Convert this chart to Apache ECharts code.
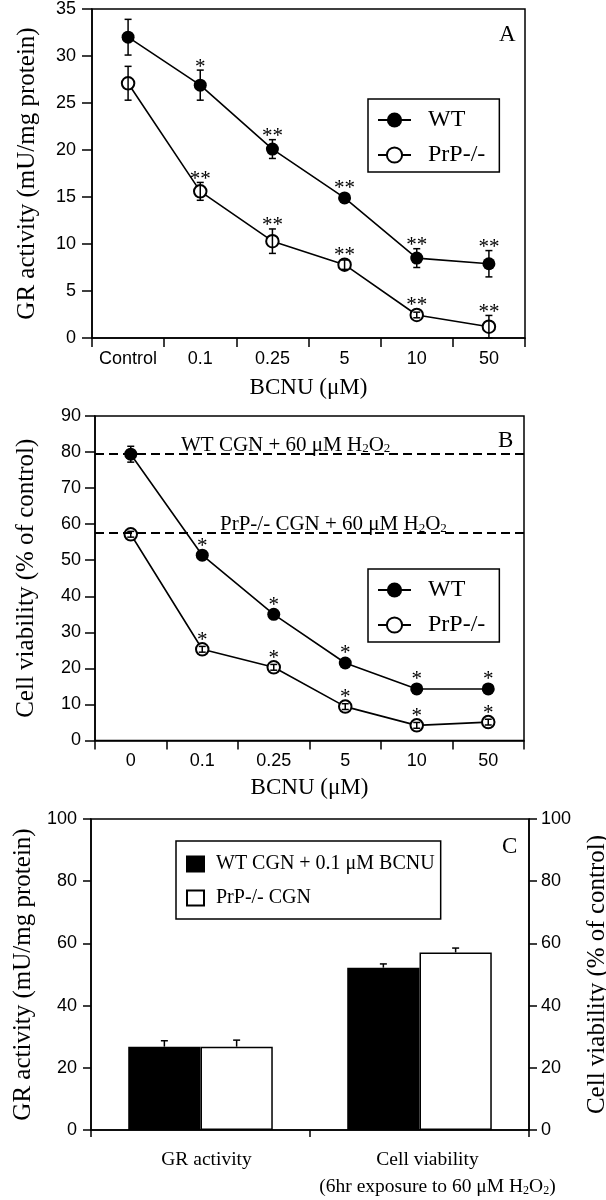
<!DOCTYPE html>
<html><head><meta charset="utf-8">
<script src="https://cdn.jsdelivr.net/npm/echarts@6/dist/echarts.min.js"></script>
<style>html,body{margin:0;padding:0;background:#fff}#c{width:606px;height:1200px}</style>
</head><body><div id="c"></div>
<script>
// ---------- Panel A ----------
const catsA = ['Control', '0.1', '0.25', '5', '10', '50'];
const wtA = [32.0, 26.9, 20.1, 14.9, 8.5, 7.9];
const wtAErr = [1.9, 1.6, 1.0, 0.4, 1.0, 1.4];
const prpA = [27.1, 15.6, 10.3, 7.8, 2.45, 1.2];
const prpAErr = [1.8, 0.95, 1.3, 0.5, 0.3, 1.2];
const wtAStars = ['', '*', '**', '**', '**', '**'];
const prpAStars = ['', '**', '**', '**', '**', '**'];

// ---------- Panel B ----------
const catsB = ['0', '0.1', '0.25', '5', '10', '50'];
const wtB = [79.4, 51.4, 35.0, 21.5, 14.3, 14.3];
const wtBErr = [2.2, 1.2, 0.8, 0.8, 1.0, 0.6];
const prpB = [57.2, 25.3, 20.3, 9.4, 4.2, 5.1];
const prpBErr = [0.8, 0.8, 0.8, 0.8, 0.8, 0.8];
const wtBStars = ['', '*', '*', '*', '*', '*'];
const prpBStars = ['', '*', '*', '*', '*', '*'];
const refWT = 79.6;
const refPrP = 57.5;

// ---------- Panel C ----------
const catsC = ['GR activity', 'Cell viability'];
const wtC = [26.8, 52.2];
const wtCErr = [1.9, 1.2];
const prpC = [26.8, 57.1];
const prpCErr = [2.1, 1.4];
const nameWT_C = 'WT CGN + 0.1 μM BCNU';
const namePrP_C = 'PrP-/- CGN';

const SERIF = 'Liberation Serif';
const SANS = 'Liberation Sans';
const K = '#000';

function xAx(gi, data, name, gap, tickLen, extra) {
  return Object.assign({
    gridIndex: gi, type: 'category', data: data, boundaryGap: true,
    axisLine: { show: true, lineStyle: { color: K, width: 1.5 } },
    axisTick: { show: true, interval: 0, length: tickLen, lineStyle: { color: K, width: 1.5 } },
    axisLabel: { color: K, fontFamily: SANS, fontSize: 18, margin: 12, interval: 0 },
    splitLine: { show: false },
    name: name, nameLocation: 'middle', nameGap: gap,
    nameTextStyle: { color: K, fontFamily: SERIF, fontSize: 23 }
  }, extra || {});
}
function yAx(gi, max, interval, name, gap, margin, tickLen, pos) {
  return {
    gridIndex: gi, type: 'value', min: 0, max: max, interval: interval, position: pos || 'left',
    axisLine: { show: true, lineStyle: { color: K, width: 1.5 } },
    axisTick: { show: true, length: tickLen, lineStyle: { color: K, width: 1.5 } },
    axisLabel: { color: K, fontFamily: SANS, fontSize: 18, margin: margin },
    splitLine: { show: false },
    name: name, nameLocation: 'middle', nameGap: gap,
    nameTextStyle: { color: K, fontFamily: SERIF, fontSize: 25 }
  };
}
function lineS(name, xi, data, filled) {
  return {
    type: 'line', name: name, xAxisIndex: xi, yAxisIndex: xi, data: data,
    symbol: filled ? 'circle' : 'emptyCircle', symbolSize: filled ? 13 : 12.5,
    itemStyle: { color: K, borderColor: K, borderWidth: filled ? 0 : 1.3 },
    lineStyle: { color: K, width: 1.6 }, z: 2, silent: true,
    emphasis: { disabled: true }
  };
}
function errS(xi, means, errs, stars) {
  return {
    type: 'custom', xAxisIndex: xi, yAxisIndex: xi, z: 5, silent: true,
    data: means.map((m, i) => [i, m, errs[i]]),
    encode: { x: 0, y: 1 },
    renderItem: function (params, api) {
      const i = api.value(0), m = api.value(1), e = api.value(2);
      const c = api.coord([i, m]);
      const t = api.coord([i, m + e]);
      const b = api.coord([i, Math.max(m - e, 0)]);
      const ls = { stroke: K, lineWidth: 1.5 };
      const ch = [
        { type: 'line', shape: { x1: c[0], y1: t[1], x2: c[0], y2: b[1] }, style: ls },
        { type: 'line', shape: { x1: c[0] - 3.5, y1: t[1], x2: c[0] + 3.5, y2: t[1] }, style: ls },
        { type: 'line', shape: { x1: c[0] - 3.5, y1: b[1], x2: c[0] + 3.5, y2: b[1] }, style: ls }
      ];
      const s = stars[params.dataIndex];
      if (s) {
        const y = Math.min(t[1], c[1] - 6) - 7 + 4;
        ch.push({ type: 'text', x: c[0], y: y,
          style: { text: s, fontFamily: SERIF, fontSize: 21, fill: K, align: 'center', verticalAlign: 'middle' } });
      }
      return { type: 'group', children: ch };
    }
  };
}
function barErrS(means, errs, side) {
  return {
    type: 'custom', xAxisIndex: 2, yAxisIndex: 2, z: 5, silent: true,
    data: means.map((m, i) => [i, m, errs[i]]),
    encode: { x: 0, y: 1 },
    renderItem: function (params, api) {
      const i = api.value(0), m = api.value(1), e = api.value(2);
      const band = api.size([1, 0])[0];
      const bw = band * (1 - 0.34) / 2;
      const c = api.coord([i, m]);
      const t = api.coord([i, m + e]);
      const x = c[0] + side * bw / 2;
      const ls = { stroke: K, lineWidth: 1.5 };
      return { type: 'group', children: [
        { type: 'line', shape: { x1: x, y1: c[1], x2: x, y2: t[1] }, style: ls },
        { type: 'line', shape: { x1: x - 3.5, y1: t[1], x2: x + 3.5, y2: t[1] }, style: ls }
      ] };
    }
  };
}
const rich = {
  n: { fontFamily: SERIF, fontSize: 21, color: K, lineHeight: 22, verticalAlign: 'bottom' },
  s: { fontFamily: SERIF, fontSize: 13, color: K, lineHeight: 22, verticalAlign: 'bottom' }
};
const lineLegend = (top) => ({
  orient: 'vertical', left: 368, top: top, data: ['WT', 'PrP-/-'],
  itemWidth: 33, itemHeight: 19, itemGap: 11, padding: [9, 14, 5, 9],
  borderColor: K, borderWidth: 1.5, selectedMode: false,
  textStyle: { fontFamily: SERIF, fontSize: 24, color: K, padding: [0, 0, 0, 12] }
});
const ttl = (t, l, tp) => ({ text: t, left: l, top: tp, padding: 0,
  textStyle: { fontFamily: SERIF, fontSize: 23, fontWeight: 'normal', color: K } });

const option = {
  animation: false,
  backgroundColor: '#fff',
  title: [ttl('A', 499, 23), ttl('B', 498, 429), ttl('C', 502, 835)],
  grid: [
    { left: 92, right: 81, top: 9, height: 329, show: true, borderColor: K, borderWidth: 1.5, outerBoundsMode: 'none', containLabel: false },
    { left: 95, right: 82, top: 416, height: 324.5, show: true, borderColor: K, borderWidth: 1.5, outerBoundsMode: 'none', containLabel: false },
    { left: 91, right: 77, top: 819, height: 311, show: true, borderColor: K, borderWidth: 1.5, outerBoundsMode: 'none', containLabel: false }
  ],
  legend: [
    lineLegend(99),
    lineLegend(569),
    { orient: 'vertical', left: 176, top: 841, data: [nameWT_C, namePrP_C], icon: 'rect',
      itemWidth: 17, itemHeight: 15, itemGap: 14, padding: [13, 6, 11, 10],
      borderColor: K, borderWidth: 1.5, selectedMode: false,
      textStyle: { fontFamily: SERIF, fontSize: 20, color: K, padding: [0, 0, 0, 7] } }
  ],
  xAxis: [
    xAx(0, catsA, 'BCNU (μM)', 38, 9),
    xAx(1, catsB, 'BCNU (μM)', 36, 9),
    xAx(2, catsC, '', 0, 7, {
      axisLabel: { color: K, margin: 17, interval: 0,
        formatter: function (v, i) {
          return i === 0 ? '{g|' + v + '}' :
            '{a|' + v + '}\n{b0|(6hr exposure to 60 μM H}{bs|2}{b|O}{bs|2}{b|)}';
        },
        rich: {
          g: { fontFamily: SERIF, fontSize: 19.5, color: K, lineHeight: 25, padding: [0, 0, 0, 12] },
          a: { fontFamily: SERIF, fontSize: 19.5, color: K, lineHeight: 25, padding: [0, 0, 0, 16] },
          b0: { fontFamily: SERIF, fontSize: 19.5, color: K, lineHeight: 25, verticalAlign: 'bottom', padding: [0, 0, 0, 36] },
          b: { fontFamily: SERIF, fontSize: 19.5, color: K, lineHeight: 25, verticalAlign: 'bottom' },
          bs: { fontFamily: SERIF, fontSize: 12, color: K, lineHeight: 25, verticalAlign: 'bottom' }
        }
      }
    })
  ],
  yAxis: [
    yAx(0, 35, 5, 'GR activity (mU/mg protein)', 52, 16, 10),
    yAx(1, 90, 10, 'Cell viability (% of control)', 56, 14, 10),
    yAx(2, 100, 20, 'GR activity (mU/mg protein)', 51, 14, 8),
    yAx(2, 100, 20, 'Cell viability (% of control)', 56, 12, 8, 'right')
  ],
  series: [
    lineS('WT', 0, wtA, true),
    lineS('PrP-/-', 0, prpA, false),
    errS(0, wtA, wtAErr, wtAStars),
    errS(0, prpA, prpAErr, prpAStars),
    Object.assign(lineS('WT', 1, wtB, true), {
      markLine: {
        silent: true, symbol: ['none', 'none'],
        lineStyle: { color: K, width: 1.8, type: [9, 5] },
        data: [
          { yAxis: refWT, label: { show: true, position: 'insideStartTop', distance: [86, -2],
              formatter: '{n|WT CGN + 60 μM H}{s|2}{n|O}{s|2}', rich: rich } },
          { yAxis: refPrP, label: { show: true, position: 'insideStartTop', distance: [125, -2],
              formatter: '{n|PrP-/- CGN + 60 μM H}{s|2}{n|O}{s|2}', rich: rich } }
        ]
      }
    }),
    lineS('PrP-/-', 1, prpB, false),
    errS(1, wtB, wtBErr, wtBStars),
    errS(1, prpB, prpBErr, prpBStars),
    { type: 'bar', name: nameWT_C, xAxisIndex: 2, yAxisIndex: 2, data: wtC,
      barGap: '0%', barCategoryGap: '34%', silent: true,
      itemStyle: { color: K, borderColor: K, borderWidth: 1.5 } },
    { type: 'bar', name: namePrP_C, xAxisIndex: 2, yAxisIndex: 2, data: prpC,
      barGap: '0%', barCategoryGap: '34%', silent: true,
      itemStyle: { color: '#fff', borderColor: K, borderWidth: 1.5 } },
    barErrS(wtC, wtCErr, -1),
    barErrS(prpC, prpCErr, 1)
  ]
};
const chart = echarts.init(document.getElementById('c'), null, { renderer: 'canvas' });
chart.setOption(option);
</script>
</body></html>
